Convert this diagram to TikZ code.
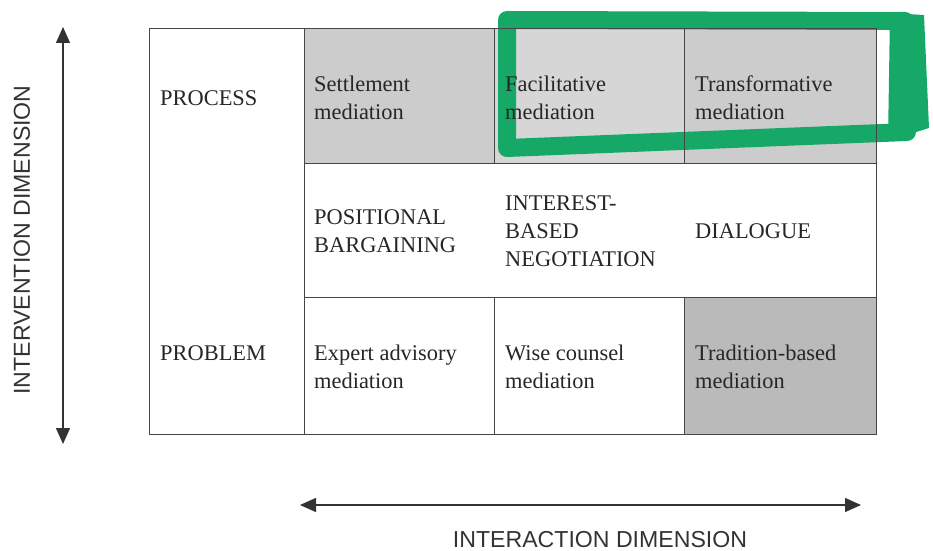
\documentclass[tikz,border=0pt]{standalone}
\usepackage{fontspec}
\setmainfont{Liberation Serif}
\newfontfamily\axisfont{Liberation Sans}
\usetikzlibrary{arrows.meta, positioning}
\definecolor{marker}{RGB}{22,168,102}
\definecolor{rule}{RGB}{70,70,70}
\tikzset{
  cell/.style={anchor=west, align=left, inner sep=0pt, text=black!85,
    font=\fontsize{22.5}{28}\selectfont},
  shadelight/.style={fill=black!16},
  shademid/.style={fill=black!20},
  shadedark/.style={fill=black!27},
  dimarrow/.style={{Triangle[width=14bp,length=16bp]}-{Triangle[width=14bp,length=16bp]},
    line width=1.4bp, black!80},
  dimlabel/.style={inner sep=0pt, text=black!80, font=\axisfont\fontsize{23.2}{26}\selectfont},
}

\begin{document}
\begin{tikzpicture}[x=1bp, y=-1bp]
        \useasboundingbox (0,0) rectangle (933,551);

        % shaded cells
        \fill[shademid] (304,28) rectangle (494,163);
        \fill[shadelight] (494,28) rectangle (684,163);
        \fill[shademid] (684,28) rectangle (876,163);
        \fill[shadedark] (684,297) rectangle (876,434);

        % marker pen
        \begin{scope}[marker, line join=round, line cap=round]
          \draw[line width=18bp] (507,20) -- (905,21) -- (907,132) -- (507,148) -- cycle;
          \fill (890,13) -- (924,15) -- (929,128) -- (888,141) -- cycle;
        \end{scope}

        % grid
        \draw[rule, line width=0.8bp] (149,28) rectangle (876,434)
          (304,28) -- (304,434)
          (304,163) -- (876,163)
          (304,297) -- (876,297)
          (494,28) -- (494,163)
          (684,28) -- (684,163)
          (494,297) -- (494,434)
          (684,297) -- (684,434);

        % cells
        \node[cell] (process) at (160,98) {PROCESS};
        \node[cell] (problem) at (160,353) {PROBLEM};
        \node[cell] (settle) at (314,98) {Settlement\\mediation};
        \node[cell] (facil) at (505,98) {Facilitative\\mediation};
        \node[cell] (transf) at (695,98) {Transformative\\mediation};
        \node[cell] (posit) at (314,231) {POSITIONAL\\BARGAINING};
        \node[cell] (interest) at (505,231) {INTEREST-\\BASED\\NEGOTIATION};
        \node[cell] (dialog) at (695,231) {DIALOGUE};
        \node[cell] (expert) at (314,367) {Expert advisory\\mediation};
        \node[cell] (wise) at (505,367) {Wise counsel\\mediation};
        \node[cell] (tradit) at (695,367) {Tradition-based\\mediation};

        % axes
        \coordinate (vtop) at (63,27);
        \coordinate (vbot) at (63,444);
        \coordinate (hleft) at (300,505);
        \coordinate (hright) at (861,505);
        \draw[dimarrow] (vtop) -- (vbot);
        \draw[dimarrow] (hleft) -- (hright);
        \node[dimlabel, rotate=90] (intervention) at (22,240) {INTERVENTION DIMENSION};
        \node[dimlabel] (interaction) at (600,540) {INTERACTION DIMENSION};

      \end{tikzpicture}
\end{document}
